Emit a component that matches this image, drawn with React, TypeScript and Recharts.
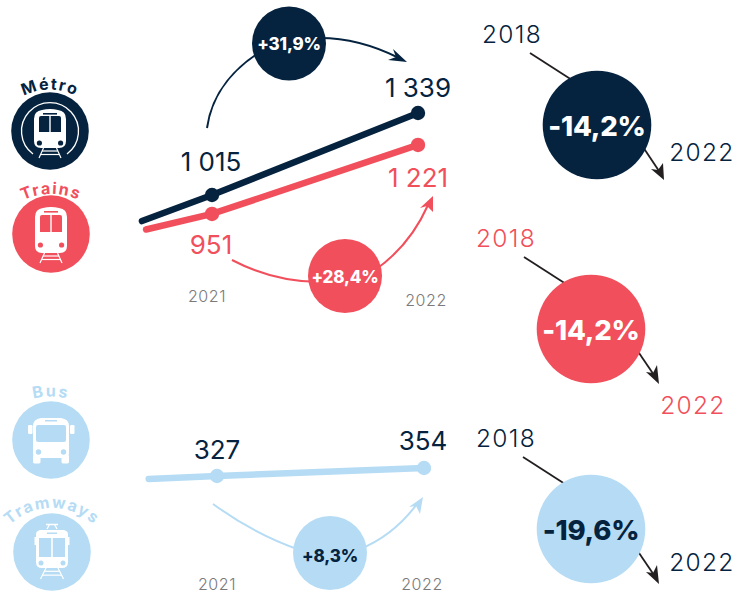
import React from "react";
import { LineChart, Line, XAxis, YAxis } from "recharts";

const NAVY = "#05233f";
const RED = "#f14f5b";
const BLUE = "#b5dcf4";
const INK = "#231f20";
const GREY = "#7a7a7a";
const FONT = "Inter, 'Noto Sans', sans-serif";

const yearTicks = [2021, 2022];

const metroData = [
  { year: 2020.66, value: 912 },
  { year: 2021, value: 1015 },
  { year: 2022, value: 1339 },
];
const trainData = [
  { year: 2020.68, value: 890 },
  { year: 2021, value: 951 },
  { year: 2022, value: 1221 },
];
const busData = [
  { year: 2020.67, value: 317 },
  { year: 2021, value: 327 },
  { year: 2022, value: 354 },
];

const growthLabels = ["+31,9%", "+28,4%", "+8,3%"];
const declineLabels = ["-14,2%", "-14,2%", "-19,6%"];
const modeNames = ["Métro", "Trains", "Bus", "Tramways"];
const fromYear = "2018";
const toYear = "2022";

const fmt = (v: number) => String(v).replace(/\B(?=(\d{3})+$)/g, " ");

type Off = Record<number, [number, number]>;
const makeLabel = (color: string, off: Off) => (p: any) => {
  const o = off[p.index];
  if (!o) return <g key={p.index} />;
  return (
    <text key={p.index} x={p.x + o[0]} y={p.y + o[1]} textAnchor="middle" fontFamily={FONT} fontSize={26} letterSpacing={0} fill={color}>
      {fmt(p.value)}
    </text>
  );
};
const makeDot = (color: string) => (p: any) =>
  p.index === 0 ? <g key={p.index} /> : <circle key={p.index} cx={p.cx} cy={p.cy} r={7.2} fill={color} />;

const makeTick = (off: Record<number, [number, number]>) => (p: any) => {
  const o = off[p.payload.value];
  return (
    <text x={p.x + o[0]} y={p.y + o[1]} textAnchor="middle" fontFamily={FONT} fontWeight={300} fontSize={16} letterSpacing={0.6} fill={GREY}>
      {p.payload.value}
    </text>
  );
};

const Ring = ({ cx, cy, fill }: any) => <circle cx={cx} cy={cy} r={38.8} fill={fill} />;

const Rails = ({ x, y1, y2, spread1, spread2, h }: any) => (
  <g stroke="#fff" strokeWidth={1.2} fill="none">
    <path d={`M${x - spread1} ${y1}L${x - spread2} ${y2}M${x + spread1} ${y1}L${x + spread2} ${y2}`} />
    <path d={`M${x - spread1 - (spread2 - spread1) * 0.3} ${y1 + h * 0.3}H${x + spread1 + (spread2 - spread1) * 0.3}`} />
    <path d={`M${x - spread1 - (spread2 - spread1) * 0.65} ${y1 + h * 0.65}H${x + spread1 + (spread2 - spread1) * 0.65}`} />
  </g>
);

const TrainIcon = ({ cx, top, bottom, winTop, winBottom, lightY, railEnd, bg, ring, cy }: any) => (
  <g>
    {ring && (
      <path d={`M${cx - 17} ${cy + 23}A28.5 28.5 0 1 1 ${cx + 17} ${cy + 23}`} fill="none" stroke="#fff" strokeWidth={1.3} />
    )}
    <path
      d={`M${cx - 16} ${bottom - 7}V${top + 10}Q${cx - 16} ${top + 2} ${cx - 8} ${top + 1}Q${cx} ${top - 1} ${cx + 8} ${top + 1}Q${cx + 16} ${top + 2} ${cx + 16} ${top + 10}V${bottom - 7}Q${cx + 16} ${bottom} ${cx + 9} ${bottom}H${cx - 9}Q${cx - 16} ${bottom} ${cx - 16} ${bottom - 7}Z`}
      fill="#fff"
    />
    <rect x={cx - 7} y={top + 4} width={14} height={1.6} fill={bg} />
    <path d={`M${cx - 11} ${winBottom}V${winTop + 2}Q${cx - 11} ${winTop} ${cx - 9} ${winTop}H${cx - 0.7}V${winBottom}Z`} fill={bg} />
    <path d={`M${cx + 11} ${winBottom}V${winTop + 2}Q${cx + 11} ${winTop} ${cx + 9} ${winTop}H${cx + 0.7}V${winBottom}Z`} fill={bg} />
    <circle cx={cx - 10.6} cy={lightY} r={2.6} fill={bg} />
    <circle cx={cx + 10.6} cy={lightY} r={2.6} fill={bg} />
    <Rails x={cx} y1={bottom} y2={railEnd} spread1={6.5} spread2={11} h={railEnd - bottom} />
  </g>
);

const BusIcon = ({ cx, bg }: any) => (
  <g>
    <rect x={cx - 23} y={425} width={4.5} height={9} rx={1.2} fill="#fff" />
    <rect x={cx + 19} y={425} width={4.5} height={9} rx={1.2} fill="#fff" />
    <path d={`M${cx - 18} 453V426Q${cx - 18} 419 ${cx - 10} 418H${cx + 10}Q${cx + 18} 419 ${cx + 18} 426V453Q${cx + 18} 458 ${cx + 13} 458H${cx - 13}Q${cx - 18} 458 ${cx - 18} 453Z`} fill="#fff" />
    <rect x={cx - 18} y={455} width={7.5} height={8.5} rx={1.4} fill="#fff" />
    <rect x={cx + 10.5} y={455} width={7.5} height={8.5} rx={1.4} fill="#fff" />
    <rect x={cx - 6} y={420} width={12} height={1.5} fill={bg} />
    <rect x={cx - 15} y={425} width={30} height={17} rx={2} fill={bg} />
    <circle cx={cx - 12.5} cy={452} r={2.7} fill={bg} />
    <circle cx={cx + 12.5} cy={452} r={2.7} fill={bg} />
  </g>
);

const TramIcon = ({ cx, bg }: any) => (
  <g>
    <path d={`M${cx - 6} 524.5H${cx + 6}M${cx - 5} 529L${cx - 2.5} 524.5M${cx + 5} 529L${cx + 2.5} 524.5`} stroke="#fff" strokeWidth={1.3} fill="none" />
    <rect x={cx - 17.5} y={537} width={2} height={8} fill="#fff" />
    <rect x={cx + 15.5} y={537} width={2} height={8} fill="#fff" />
    <path d={`M${cx - 16} 562V534Q${cx - 16} 531 ${cx - 12} 530H${cx + 12}Q${cx + 16} 531 ${cx + 16} 534V562Q${cx + 16} 568 ${cx + 10} 568H${cx - 10}Q${cx - 16} 568 ${cx - 16} 562Z`} fill="#fff" />
    <rect x={cx - 5} y={532.5} width={10} height={1.5} fill={bg} />
    <path d={`M${cx - 13} 557V538H${cx - 0.8}V557Z`} fill={bg} />
    <path d={`M${cx + 13} 557V538H${cx + 0.8}V557Z`} fill={bg} />
    <circle cx={cx - 11} cy={563} r={2.5} fill={bg} />
    <circle cx={cx + 11} cy={563} r={2.5} fill={bg} />
    <Rails x={cx} y1={568} y2={579} spread1={6} spread2={11.5} h={11} />
  </g>
);

const Curved = ({ id, d, text, fill, spacing }: any) => (
  <g>
    <path id={id} d={d} fill="none" />
    <text fontFamily={FONT} fontWeight={700} fontSize={16} letterSpacing={spacing} fill={fill}>
      <textPath href={`#${id}`} startOffset="50%" textAnchor="middle">
        {text}
      </textPath>
    </text>
  </g>
);

const Head = ({ pts, fill }: any) => <polygon points={pts} fill={fill} />;

const Bubble = ({ cx, cy, r, fill, text, color, size, by }: any) => (
  <g>
    <circle cx={cx} cy={cy} r={r} fill={fill} />
    <text x={cx} y={by} textAnchor="middle" fontFamily={FONT} fontWeight={800} fontSize={size} letterSpacing={-0.2} fill={color}>
      {text}
    </text>
  </g>
);

const Decline = ({ cy, cx, start, via, exit, tip, head, fromX, fromY, fromColor, toX, toY, toColor, fill, color, text, by }: any) => (
  <g>
    <path d={`M${start}L${via}`} stroke={INK} strokeWidth={1.8} fill="none" />
    <path d={`M${exit}L${tip}`} stroke={INK} strokeWidth={1.8} fill="none" />
    <polygon points={head} fill={INK} />
    <Bubble cx={cx} cy={cy} r={54.3} fill={fill} text={text} color={color} size={27.5} by={by} />
    <text x={fromX} y={fromY} textAnchor="middle" fontFamily={FONT} fontWeight={300} fontSize={24.5} letterSpacing={1.3} fill={fromColor}>{fromYear}</text>
    <text x={toX} y={toY} textAnchor="middle" fontFamily={FONT} fontWeight={300} fontSize={24.5} letterSpacing={1.3} fill={toColor}>{toYear}</text>
  </g>
);

const line = (data: any[], axis: string, color: string, off: Off) => (
  <Line
    data={data}
    yAxisId={axis}
    dataKey="value"
    type="linear"
    stroke={color}
    strokeWidth={6.5}
    strokeLinecap="round"
    dot={makeDot(color)}
    activeDot={false}
    label={makeLabel(NAVY === color || axis === "bus" ? NAVY : color, off)}
    isAnimationActive={false}
  />
);

export default function App() {
  return (
    <div style={{ position: "absolute", left: 0, top: 0, width: 747, height: 594, background: "#fff", overflow: "hidden" }}>
      <div style={{ position: "absolute", left: 0, top: 0 }}>
        <LineChart width={747} height={320} margin={{ top: 90, right: 226, bottom: 50, left: 109 }}>
          <XAxis
            dataKey="year"
            type="number"
            domain={[2020.5, 2022.5]}
            ticks={yearTicks}
            axisLine={false}
            tickLine={false}
            height={30}
            allowDuplicatedCategory={false}
            tick={makeTick({ 2021: [-5, 54], 2022: [8, 58] })}
          />
          <YAxis yAxisId="metro" hide domain={[837, 1430]} />
          <YAxis yAxisId="trains" hide domain={[849, 1436]} />
          {line(metroData, "metro", NAVY, { 1: [-1, -24], 2: [0, -16] })}
          {line(trainData, "trains", RED, { 1: [-1, 40], 2: [0, 42] })}
        </LineChart>
      </div>
      <div style={{ position: "absolute", left: 0, top: 0 }}>
        <LineChart width={747} height={594} margin={{ top: 440, right: 219.5, bottom: 64, left: 113.5 }}>
          <XAxis
            dataKey="year"
            type="number"
            domain={[2020.5, 2022.5]}
            ticks={yearTicks}
            axisLine={false}
            tickLine={false}
            height={30}
            tick={makeTick({ 2021: [0, 82], 2022: [-2, 82] })}
          />
          <YAxis yAxisId="bus" hide domain={[246, 448.5]} />
          {line(busData, "bus", BLUE, { 1: [0, -17], 2: [-1, -18] })}
        </LineChart>
      </div>
      <svg width={747} height={594} style={{ position: "absolute", left: 0, top: 0 }}>
        {/* mode pictograms */}
        <Ring cx={50} cy={131} fill={NAVY} />
        <TrainIcon cx={50} cy={131} top={109} bottom={148} winTop={116} winBottom={132} lightY={143} railEnd={158} bg={NAVY} ring />
        <Curved id="p-metro" d="M3 116A55 55 0 0 1 97 116" text={modeNames[0]} fill={NAVY} spacing={1.6} />
        <Ring cx={51} cy={234} fill={RED} />
        <TrainIcon cx={51} cy={234} top={207} bottom={253} winTop={215} winBottom={232} lightY={245} railEnd={263} bg={RED} />
        <Curved id="p-trains" d="M6 212A65 65 0 0 1 96 212" text={modeNames[1]} fill={RED} spacing={1.5} />
        <Ring cx={51} cy={440} fill={BLUE} />
        <BusIcon cx={51} bg={BLUE} />
        <Curved id="p-bus" d="M16 406A70 70 0 0 1 86 406" text={modeNames[2]} fill={BLUE} spacing={2} />
        <Ring cx={52} cy={552} fill={BLUE} />
        <TramIcon cx={52} bg={BLUE} />
        <Curved id="p-tram" d="M2 534A61 61 0 0 1 102 534" text={modeNames[3]} fill={BLUE} spacing={1.5} />

        {/* growth arrows */}
        <path d="M207 128C212 92 236 66 265 49" stroke={NAVY} strokeWidth={2} fill="none" />
        <path d="M320 38C348 38 375 46 399 58" stroke={NAVY} strokeWidth={2} fill="none" />
        <Head pts="407,62 393,49 396,57 388,60" fill={NAVY} />
        <Bubble cx={289} cy={43.5} r={37} fill={NAVY} text={growthLabels[0]} color="#fff" size={17} by={50} />

        <path d="M232 260C255 272 285 282 320 282" stroke={RED} strokeWidth={2} fill="none" />
        <path d="M375 270C398 254 416 232 428 205" stroke={RED} strokeWidth={2} fill="none" />
        <Head pts="433,196 420,208 427,206 433,212" fill={RED} />
        <Bubble cx={345} cy={276} r={37} fill={RED} text={growthLabels[1]} color="#fff" size={17} by={283} />

        <path d="M213 504C235 520 265 538 300 550" stroke={BLUE} strokeWidth={2} fill="none" />
        <path d="M360 549C385 539 402 524 417 504" stroke={BLUE} strokeWidth={2} fill="none" />
        <Head pts="423,497 409,507 416,506 420,514" fill={BLUE} />
        <Bubble cx={330} cy={553} r={37} fill={BLUE} text={growthLabels[2]} color={NAVY} size={17} by={562} />

        {/* 2018-2022 comparison */}
        <Decline cx={597} cy={125} start="530 53" via="572 80" exit="643 147" tip="661 174" head="664,180 651,169 658,170 663,163"
          fromX={512} fromY={43} fromColor={NAVY} toX={702} toY={161} toColor={NAVY} fill={NAVY} color="#fff" text={declineLabels[0]} by={136} />
        <Decline cx={591} cy={329} start="524 257" via="566 284" exit="637 350" tip="656 378" head="659,384 646,372 653,373 657,365"
          fromX={506} fromY={247} fromColor={RED} toX={693} toY={414} toColor={RED} fill={RED} color="#fff" text={declineLabels[1]} by={340} />
        <Decline cx={591} cy={529} start="523 457" via="565 484" exit="637 550" tip="656 578" head="659,584 646,572 653,573 657,565"
          fromX={506} fromY={447} fromColor={NAVY} toX={702} toY={571} toColor={NAVY} fill={BLUE} color={NAVY} text={declineLabels[2]} by={540} />
      </svg>
    </div>
  );
}
